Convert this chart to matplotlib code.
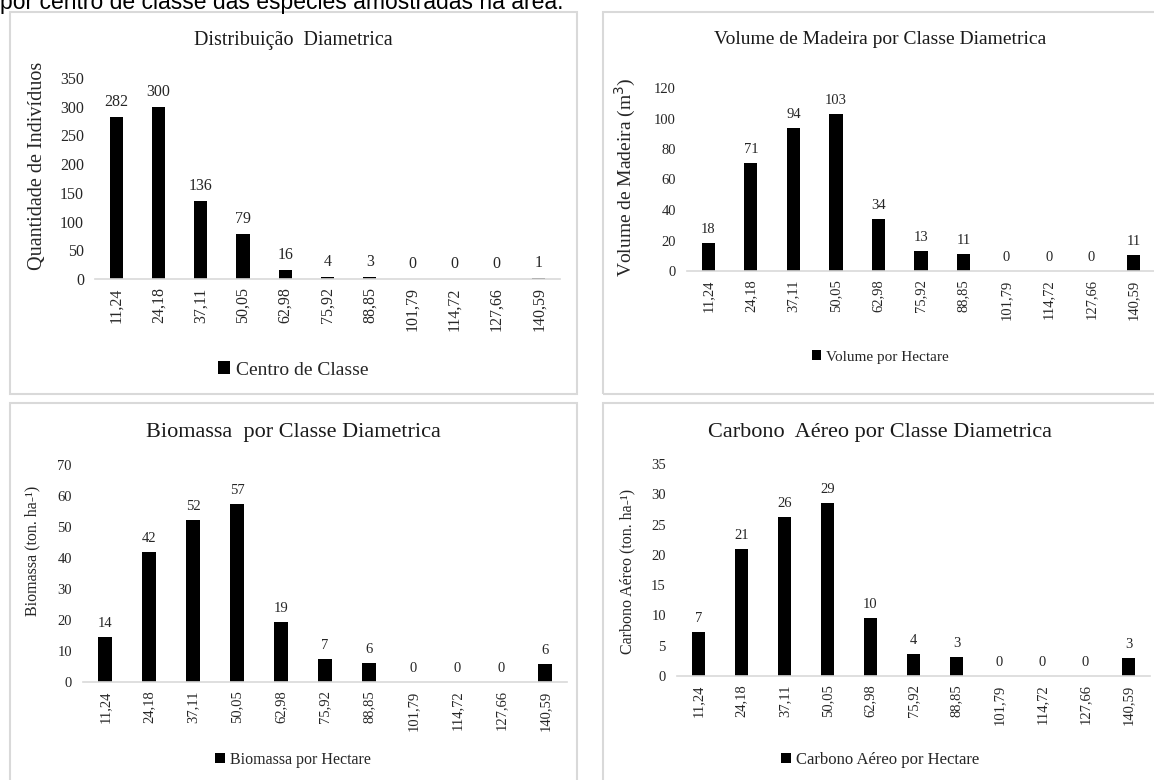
import matplotlib.pyplot as plt
from matplotlib.patches import Rectangle

W, H = 1154, 780

centros = ['11,24', '24,18', '37,11', '50,05', '62,98', '75,92', '88,85',
           '101,79', '114,72', '127,66', '140,59']
individuos = [282, 300, 136, 79, 16, 4, 3, 0, 0, 0, 1]
volume = [18.2, 70.6, 93.6, 103.2, 34.1, 13.3, 11.2, 0, 0, 0, 10.8]
biomassa = [14.4, 41.9, 52.3, 57.4, 19.3, 7.4, 6.2, 0, 0, 0, 5.9]
carbono = [7.2, 20.9, 26.2, 28.6, 9.6, 3.7, 3.2, 0, 0, 0, 2.9]

plt.rcParams['font.family'] = ['Liberation Serif', 'DejaVu Serif']
grey = '#d9d9d9'

fig = plt.figure(figsize=(W / 100, H / 100), dpi=100)


def px_axes(x0, y0, x1, y1):
    # pixel box (top-left origin) -> figure axes
    return fig.add_axes([x0 / W, 1 - y1 / H, (x1 - x0) / W, (y1 - y0) / H])


def fx(x):
    return x / W


def fy(y):
    return 1 - y / H


# bordas dos paineis
for (x0, y0, x1, y1) in [(10, 12, 577, 394), (603, 12, 1162, 394),
                         (10, 403, 577, 792), (603, 403, 1162, 792)]:
    fig.patches.append(Rectangle((fx(x0), fy(y1)), fx(x1 - x0), (y1 - y0) / H,
                                 transform=fig.transFigure, fill=False,
                                 edgecolor=grey, lw=1.5))

# texto cortado no topo (como na imagem original)
fig.text(0, fy(9), 'por centro de classe das espécies amostradas na área.',
         family='Liberation Sans', fontsize=16.5, va='baseline', ha='left')

paineis = [
    # dados, box, ylim, passo, titulo, ytitulo, legenda, fontes, (titulo x, titulo y, ylabel x, ylabel y, legenda y)
    (individuos, (95, 78, 560, 279), 350, 50, 'Distribuição  Diametrica',
     'Quantidade de Indivíduos', 'Centro de Classe',
     dict(title=14.5, ylab=14.5, tick=11.5, leg=14), (293, 40, 38, 166, 370)),
    (volume, (687, 88, 1155, 271), 120, 20, 'Volume de Madeira por Classe Diametrica',
     'Volume de Madeira (m$^3$)', 'Volume por Hectare',
     dict(title=14, ylab=14, tick=10.5, leg=11), (880, 40, 625, 177, 357)),
    (biomassa, (83, 465, 567, 682), 70, 10, 'Biomassa  por Classe Diametrica',
     'Biomassa (ton. ha-¹)', 'Biomassa por Hectare',
     dict(title=16, ylab=11.5, tick=10.5, leg=11.5), (293, 432, 32, 551, 760)),
    (carbono, (677, 464, 1150, 676), 35, 5, 'Carbono  Aéreo por Classe Diametrica',
     'Carbono Aéreo (ton. ha-¹)', 'Carbono Aéreo por Hectare',
     dict(title=16, ylab=11.5, tick=10.5, leg=12), (880, 432, 627, 571, 760)),
]

for vals, box, ymax, passo, titulo, ylab, leg, fs, (tx, ty, lx, lyy, ly) in paineis:
    ax = px_axes(*box)
    pos = range(len(centros))
    bars = ax.bar(pos, vals, width=0.31, color='black', label=leg)
    ax.set_xlim(-0.5, len(centros) - 0.5)
    ax.set_ylim(0, ymax)
    ax.set_yticks(range(0, ymax + 1, passo))
    ax.set_xticks(list(pos))
    ax.set_xticklabels(centros, rotation=90)
    ax.tick_params(axis='both', length=0, labelsize=fs['tick'], colors='#262626')
    ax.tick_params(axis='y', pad=8)
    ax.tick_params(axis='x', pad=6)
    for s in ['top', 'right', 'left']:
        ax.spines[s].set_visible(False)
    ax.spines['bottom'].set_color(grey)
    ax.spines['bottom'].set_linewidth(1.2)
    ax.set_facecolor('none')
    for b, v in zip(bars, vals):
        ax.annotate(f'{v:.0f}', (b.get_x() + b.get_width() / 2, v),
                    xytext=(0, 5), textcoords='offset points',
                    ha='center', va='bottom', fontsize=fs['tick'], color='#262626')
    fig.text(fx(tx), fy(ty), titulo, ha='center', va='center',
             fontsize=fs['title'], color='#1a1a1a')
    fig.text(fx(lx), fy(lyy), ylab, rotation=90,
             ha='center', va='center', fontsize=fs['ylab'], color='#262626')
    ax.legend(loc='center', bbox_to_anchor=(fx(tx), fy(ly)),
              bbox_transform=fig.transFigure, frameon=False,
              handlelength=0.6, handleheight=0.6, handletextpad=0.3,
              fontsize=fs['leg'], labelcolor='#262626')

fig.savefig('out.png', dpi=100)
